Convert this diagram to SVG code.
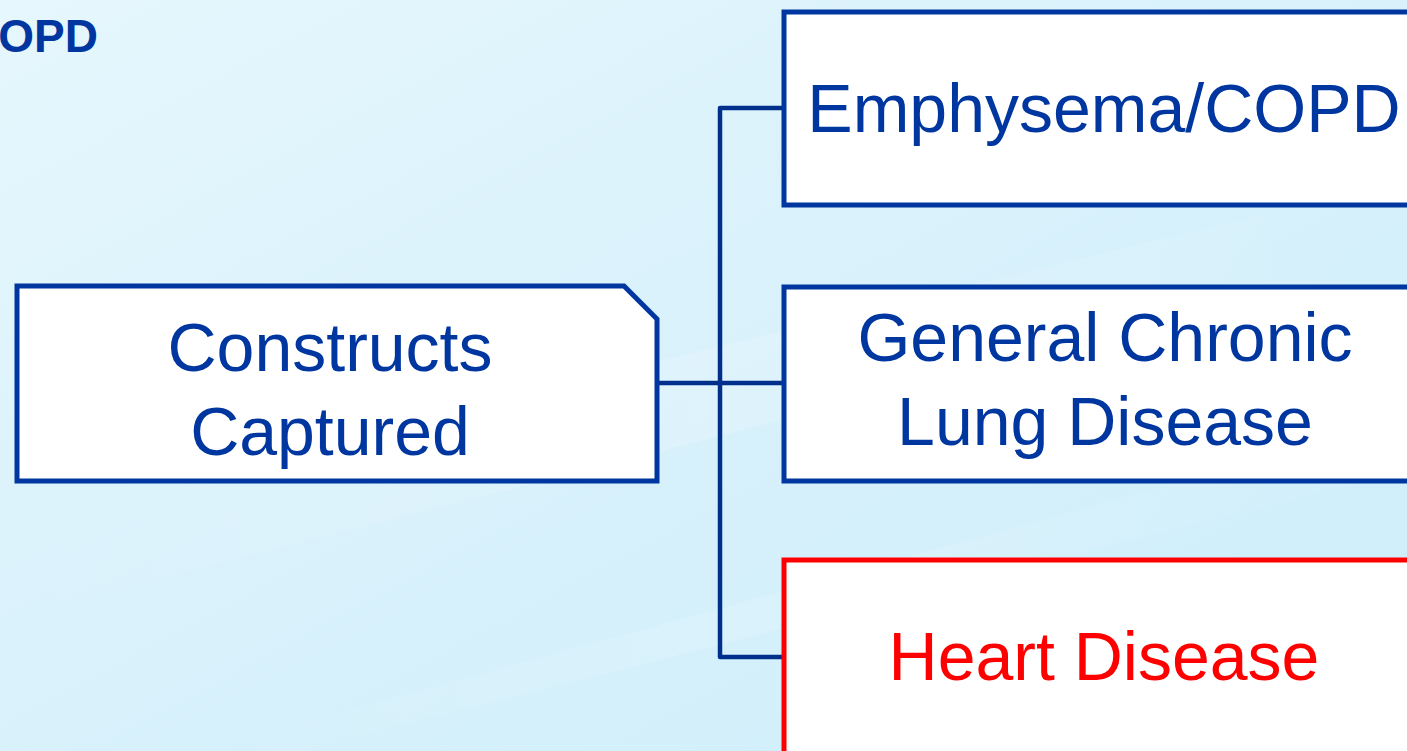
<svg xmlns="http://www.w3.org/2000/svg" width="1407" height="751" viewBox="0 0 1407 751">
<defs>
<linearGradient id="bg" x1="0" y1="0" x2="1" y2="1">
<stop offset="0" stop-color="#e6f7fd"/>
<stop offset="0.5" stop-color="#d8f1fb"/>
<stop offset="1" stop-color="#cdeefa"/>
</linearGradient>
<linearGradient id="streak" x1="0" y1="0" x2="1" y2="0">
<stop offset="0" stop-color="#ffffff" stop-opacity="0"/>
<stop offset="0.5" stop-color="#ffffff" stop-opacity="0.35"/>
<stop offset="1" stop-color="#ffffff" stop-opacity="0"/>
</linearGradient>
</defs>
<style>
.box{fill:#ffffff;stroke:#0036a0;stroke-width:5}
.red{fill:#ffffff;stroke:#ff0000;stroke-width:5}
.conn{fill:none;stroke:#002f8c;stroke-width:4.5;stroke-linejoin:round}
.t{font-family:"Liberation Sans",Arial,sans-serif;font-size:68px;fill:#0036a0;text-anchor:middle}
.tr{fill:#ff0000}
.title{font-family:"Liberation Sans",Arial,sans-serif;font-size:46px;font-weight:bold;fill:#0036a0;text-anchor:end}
</style>
<rect width="1407" height="751" fill="url(#bg)"/>
<path d="M0 520 L1407 180 L1407 260 L0 620 Z" fill="url(#streak)" opacity="0.5"/>
<path d="M200 751 L1407 420 L1407 470 L300 751 Z" fill="url(#streak)" opacity="0.4"/>
<text class="title" x="98" y="52">COPD</text>
<g id="connectors">
<path class="conn" d="M657 383 H783"/>
<path class="conn" d="M783 108 H720 V657 H783"/>
</g>
<g id="constructs">
<path class="box" d="M17 286 H624 L657 319 V481 H17 Z"/>
<text class="t" x="330" y="371">Constructs</text>
<text class="t" x="330" y="455">Captured</text>
</g>
<g id="emphysema">
<rect class="box" x="784" y="12" width="640" height="193"/>
<text class="t" x="1104" y="132">Emphysema/COPD</text>
</g>
<g id="general">
<rect class="box" x="784" y="287" width="640" height="194"/>
<text class="t" x="1105" y="361">General Chronic</text>
<text class="t" x="1105" y="445">Lung Disease</text>
</g>
<g id="heart">
<rect class="red" x="784" y="560" width="640" height="220"/>
<text class="t tr" x="1104" y="680">Heart Disease</text>
</g>
</svg>
